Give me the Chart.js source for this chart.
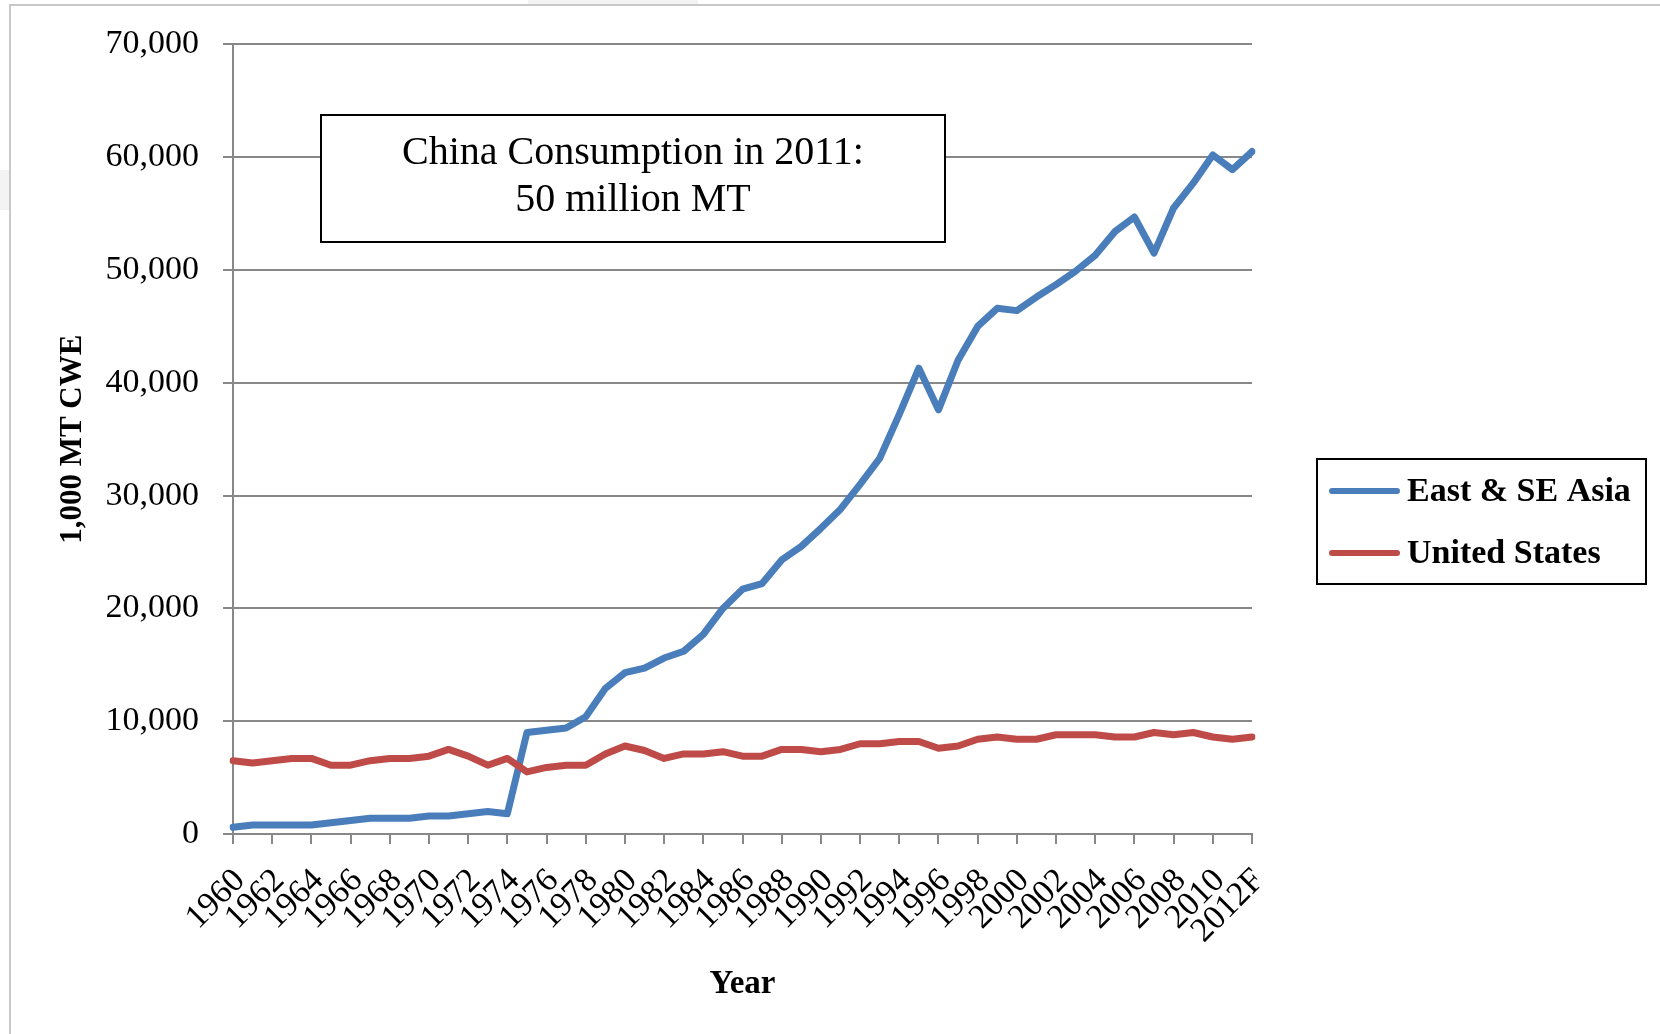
<!DOCTYPE html>
<html>
<head>
<meta charset="utf-8">
<script src="https://cdn.jsdelivr.net/npm/chart.js@4.4.0/dist/chart.umd.min.js"></script>
<style>
  html, body { margin: 0; padding: 0; background: #ffffff; }
  #wrap { width: 1660px; height: 1034px; position: relative; }
  canvas { display: block; }
</style>
</head>
<body>
<div id="wrap"><canvas id="chart" width="1660" height="1034"></canvas></div>
<script>
// Categories: one per year, the last one a forecast
const years = [
  '1960','1961','1962','1963','1964','1965','1966','1967','1968','1969',
  '1970','1971','1972','1973','1974','1975','1976','1977','1978','1979',
  '1980','1981','1982','1983','1984','1985','1986','1987','1988','1989',
  '1990','1991','1992','1993','1994','1995','1996','1997','1998','1999',
  '2000','2001','2002','2003','2004','2005','2006','2007','2008','2009',
  '2010','2011','2012F'
];

// Consumption, 1,000 MT CWE
const eastSeAsia = [
  600, 800, 800, 800, 800, 1000, 1200, 1400, 1400, 1400,
  1600, 1600, 1800, 2000, 1800, 9000, 9200, 9400, 10400, 12900,
  14300, 14700, 15600, 16200, 17700, 20000, 21700, 22200, 24300, 25500,
  27100, 28800, 31000, 33300, 37200, 41300, 37600, 42000, 45000, 46600,
  46400, 47600, 48700, 49900, 51300, 53400, 54700, 51500, 55500, 57700,
  60200, 58900, 60500
];
const unitedStates = [
  6500, 6300, 6500, 6700, 6700, 6100, 6100, 6500, 6700, 6700,
  6900, 7500, 6900, 6100, 6700, 5500, 5900, 6100, 6100, 7100,
  7800, 7400, 6700, 7100, 7100, 7300, 6900, 6900, 7500, 7500,
  7300, 7500, 8000, 8000, 8200, 8200, 7600, 7800, 8400, 8600,
  8400, 8400, 8800, 8800, 8800, 8600, 8600, 9000, 8800, 9000,
  8600, 8400, 8600
];

// Value-axis ticks
const yTickValues = [0, 10000, 20000, 30000, 40000, 50000, 60000, 70000];

// Series names and the note text
const seriesNames = ['East & SE Asia', 'United States'];
const noteLines = ['China Consumption in 2011:', '50 million MT'];
const xTitle = 'Year';
const yTitle = '1,000 MT CWE';

const SERIF = '"Liberation Serif", "Times New Roman", serif';
const GRID = '#888888';

// White page, light frame and faint edge marks
const pagePlugin = {
  id: 'page',
  beforeDraw(chart) {
    const ctx = chart.ctx;
    ctx.save();
    ctx.fillStyle = '#ffffff';
    ctx.fillRect(0, 0, chart.width, chart.height);
    ctx.fillStyle = '#f3f3f3';
    ctx.fillRect(528, 0, 170, 5);
    ctx.fillRect(0, 170, 9, 40);
    ctx.strokeStyle = '#c8c8c8';
    ctx.lineWidth = 2;
    ctx.beginPath();
    ctx.moveTo(10, chart.height);
    ctx.lineTo(10, 5);
    ctx.lineTo(chart.width, 5);
    ctx.stroke();
    ctx.restore();
  }
};

// Boxed note over the upper-left of the plot
const notePlugin = {
  id: 'note',
  afterDatasetsDraw(chart) {
    const ctx = chart.ctx;
    const x0 = 321, y0 = 115, x1 = 945, y1 = 242;
    ctx.save();
    ctx.fillStyle = '#ffffff';
    ctx.fillRect(x0, y0, x1 - x0, y1 - y0);
    ctx.strokeStyle = '#000000';
    ctx.lineWidth = 2;
    ctx.strokeRect(x0, y0, x1 - x0, y1 - y0);
    ctx.fillStyle = '#000000';
    ctx.font = '40px ' + SERIF;
    ctx.textAlign = 'center';
    ctx.textBaseline = 'middle';
    const cx = (x0 + x1) / 2;
    ctx.fillText(noteLines[0], cx, 153);
    ctx.fillText(noteLines[1], cx, 200);
    ctx.restore();
  }
};

// Boxed legend to the right of the plot
const legendPlugin = {
  id: 'boxLegend',
  afterDraw(chart) {
    const ctx = chart.ctx;
    const x0 = 1317, y0 = 459, x1 = 1646, y1 = 584;
    ctx.save();
    ctx.strokeStyle = '#000000';
    ctx.lineWidth = 2;
    ctx.strokeRect(x0, y0, x1 - x0, y1 - y0);
    const rows = [491, 553];
    chart.data.datasets.forEach((ds, i) => {
      const y = rows[i];
      ctx.strokeStyle = ds.borderColor;
      ctx.lineWidth = 6;
      ctx.lineCap = 'round';
      ctx.beginPath();
      ctx.moveTo(1332, y);
      ctx.lineTo(1397, y);
      ctx.stroke();
      ctx.fillStyle = '#000000';
      ctx.font = 'bold 34px ' + SERIF;
      ctx.textAlign = 'left';
      ctx.textBaseline = 'middle';
      ctx.fillText(ds.label, 1407, y + 1);
    });
    ctx.restore();
  }
};

new Chart(document.getElementById('chart'), {
  type: 'line',
  data: {
    labels: years,
    datasets: [
      {
        label: seriesNames[0],
        data: eastSeAsia,
        borderColor: '#4a7ebb',
        backgroundColor: '#4a7ebb',
        borderWidth: 7,
        pointRadius: 0,
        tension: 0,
        borderJoinStyle: 'round',
        borderCapStyle: 'round',
        order: 1
      },
      {
        label: seriesNames[1],
        data: unitedStates,
        borderColor: '#be4b48',
        backgroundColor: '#be4b48',
        borderWidth: 7,
        pointRadius: 0,
        tension: 0,
        borderJoinStyle: 'round',
        borderCapStyle: 'round',
        order: 0
      }
    ]
  },
  options: {
    responsive: false,
    animation: false,
    devicePixelRatio: 1,
    layout: { padding: { top: 42, right: 408, bottom: 0, left: 0 } },
    plugins: {
      legend: { display: false },
      tooltip: { enabled: false }
    },
    scales: {
      x: {
        type: 'category',
        offset: false,
        afterBuildTicks(scale) {
          scale.ticks = scale.ticks.filter((t, i) => i % 2 === 0);
        },
        afterFit(scale) { scale.height = 200; },
        grid: {
          display: true,
          drawOnChartArea: false,
          drawTicks: true,
          tickLength: 10,
          color: GRID,
          lineWidth: 2
        },
        border: { display: true, color: GRID, width: 2 },
        ticks: {
          autoSkip: false,
          minRotation: 45,
          maxRotation: 45,
          padding: 17,
          labelOffset: 7,
          color: '#000000',
          font: { family: SERIF, size: 34 }
        },
        title: {
          display: true,
          text: xTitle,
          color: '#000000',
          font: { family: SERIF, size: 33, weight: 'bold' },
          padding: { top: 0, bottom: 30 }
        }
      },
      y: {
        min: 0,
        max: 70000,
        afterBuildTicks(scale) {
          scale.ticks = yTickValues.map(v => ({ value: v }));
        },
        afterFit(scale) { scale.width = 233; },
        grid: {
          display: true,
          drawTicks: true,
          tickLength: 10,
          color: GRID,
          lineWidth: 2
        },
        border: { display: true, color: GRID, width: 2 },
        ticks: {
          padding: 24,
          color: '#000000',
          font: { family: SERIF, size: 34 },
          callback: v => Number(v).toLocaleString('en-US')
        },
        title: {
          display: true,
          text: yTitle,
          color: '#000000',
          font: { family: SERIF, size: 31, weight: 'bold' },
          padding: { top: 54, bottom: 0 }
        }
      }
    }
  },
  plugins: [pagePlugin, notePlugin, legendPlugin]
});
</script>
</body>
</html>
